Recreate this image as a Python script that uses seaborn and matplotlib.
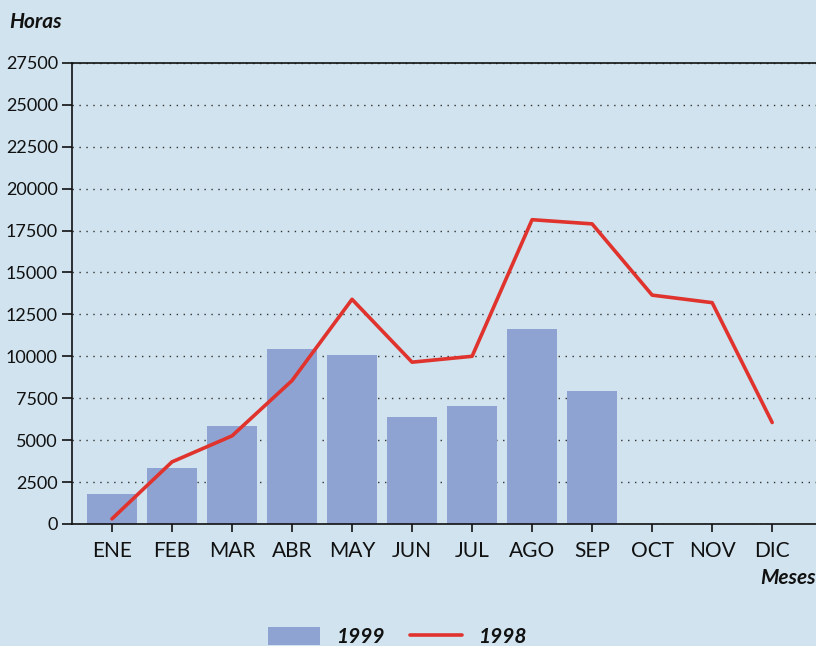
import numpy as np
import pandas as pd
import seaborn as sns
import matplotlib.pyplot as plt
from matplotlib.patches import Patch
from matplotlib.lines import Line2D

# Data
months = ['ENE', 'FEB', 'MAR', 'ABR', 'MAY', 'JUN', 'JUL', 'AGO', 'SEP', 'OCT', 'NOV', 'DIC']
horas_1999 = [1800, 3350, 5850, 10450, 10050, 6400, 7050, 11650, 7950, np.nan, np.nan, np.nan]
horas_1998 = [300, 3700, 5250, 8550, 13400, 9650, 10000, 18150, 17900, 13650, 13200, 6050]
y_ticks = list(range(0, 27501, 2500))

bg = '#D0E3EE'
bar_color = '#8FA3D3'
line_color = '#E0332D'

df = pd.DataFrame({'mes': months, 'pos': np.arange(len(months)),
                   'h1999': horas_1999, 'h1998': horas_1998})

sns.set_style('white')
plt.rcParams['font.family'] = ['Lato', 'DejaVu Sans']

fig = plt.figure(figsize=(8.16, 6.46), dpi=100, facecolor=bg)
ax = fig.add_axes([0.0879, 0.189, 0.9121, 0.7135])
ax.set_facecolor(bg)

sns.barplot(data=df, x='mes', y='h1999', order=months, color=bar_color,
            width=0.833, saturation=1, linewidth=0, edgecolor='none', ax=ax, zorder=2)
sns.lineplot(data=df, x='pos', y='h1998', color=line_color, linewidth=2.6,
             ax=ax, zorder=3)

ax.set_xlim(-0.67, 11.73)
ax.set_ylim(0, 27500)
ax.set_yticks(y_ticks)
ax.set_xticks(np.arange(len(months)))
ax.set_xticklabels(months)
ax.set_xlabel('')
ax.set_ylabel('')

ax.yaxis.grid(True, linestyle=(0, (1, 4)), color='#333333', linewidth=1.0, zorder=1)
ax.set_axisbelow(True)

for s in ['left', 'bottom', 'top']:
    ax.spines[s].set_color('#111111')
    ax.spines[s].set_linewidth(1.2)
ax.spines['right'].set_visible(False)

ax.tick_params(axis='y', direction='out', length=7, width=1.2, color='#111111',
               labelsize=13, labelcolor='#111111', pad=3, left=True)
ax.tick_params(axis='x', direction='out', length=6, width=1.2, color='#111111',
               labelsize=15, labelcolor='#111111', pad=6, bottom=True)

fig.text(0.043, 0.966, 'Horas', ha='center', va='center', fontsize=15,
         fontweight='bold', fontstyle='italic', color='#111111')
fig.text(1.0, 0.105, 'Meses', ha='right', va='center', fontsize=15,
         fontweight='bold', fontstyle='italic', color='#111111')

handles = [Patch(facecolor=bar_color, edgecolor='none'),
           Line2D([0], [0], color=line_color, linewidth=2.6)]
leg = fig.legend(handles, ['1999', '1998'], loc='center', bbox_to_anchor=(0.487, 0.014),
                 ncol=2, frameon=False, handlelength=2.5, handleheight=1.0,
                 columnspacing=1.2, handletextpad=0.77,
                 prop={'size': 15, 'weight': 'bold', 'style': 'italic'})
for t in leg.get_texts():
    t.set_color('#111111')

fig.savefig('out.png', dpi=100, facecolor=bg)
